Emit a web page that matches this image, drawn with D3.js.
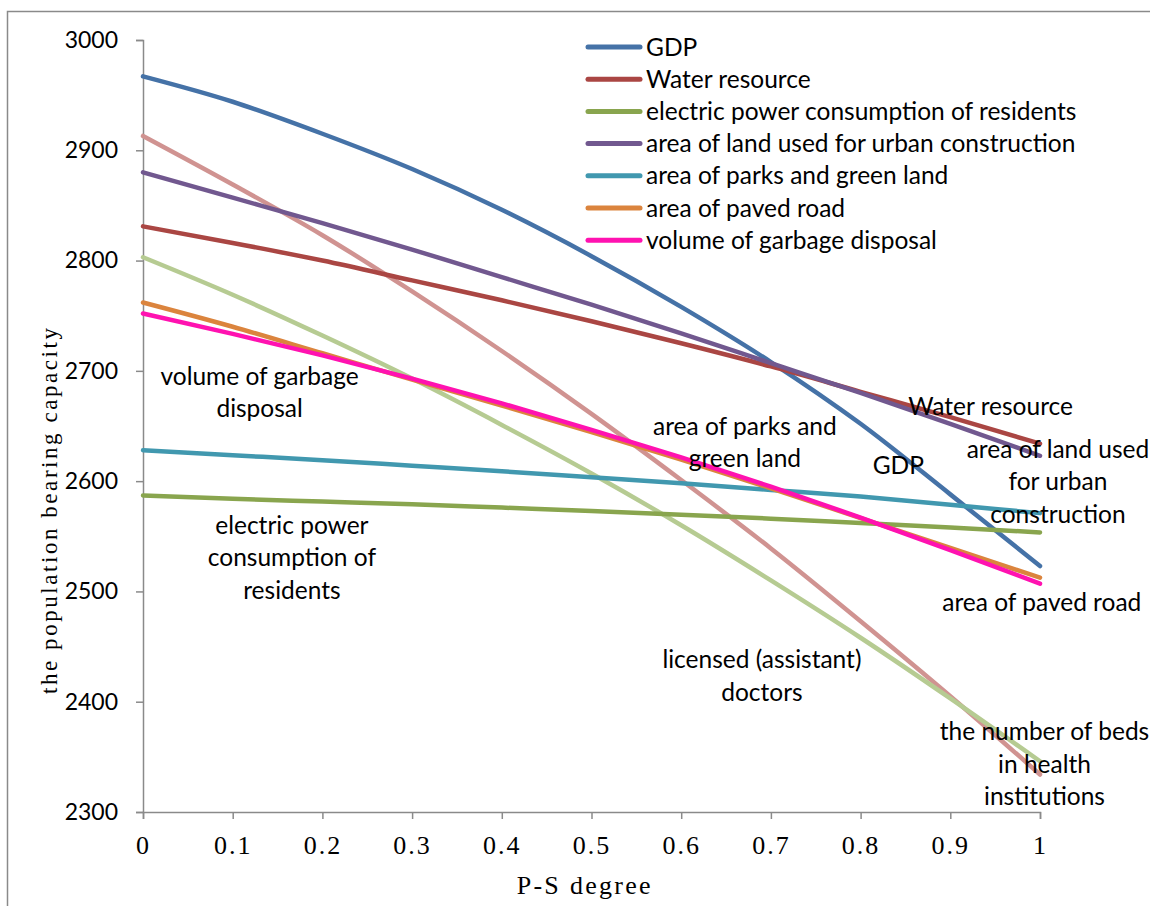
<!DOCTYPE html>
<html>
<head>
<meta charset="utf-8">
<script src="https://cdn.jsdelivr.net/npm/d3@7"></script>
<style>
  body { margin: 0; background: #fff; }
  svg { display: block; }
  .lbl { font-family: Lato, "Open Sans", sans-serif; font-size: 24.5px; fill: #000; }
</style>
</head>
<body>
<svg id="chart" width="1150" height="906"></svg>
<script>
// P-S degree on the x axis
const degrees = [0, 0.1, 0.2, 0.3, 0.4, 0.5, 0.6, 0.7, 0.8, 0.9, 1];
const yTicks = [2300, 2400, 2500, 2600, 2700, 2800, 2900, 3000];

const gdp         = [2967, 2944, 2915, 2883, 2846, 2804, 2758, 2708, 2652, 2588, 2523];
const water       = [2831, 2816, 2800, 2782, 2764, 2745, 2725, 2704, 2681, 2658, 2634];
const electric    = [2587, 2584, 2581.5, 2579, 2576, 2573, 2569.5, 2566, 2562, 2558, 2553.5];
const landUrban   = [2880, 2857, 2834, 2810, 2785, 2760, 2734, 2707, 2680, 2652, 2623];
const parks       = [2628, 2623.5, 2619, 2614, 2609, 2603.5, 2598, 2592, 2586, 2578.5, 2571];
const pavedRoad   = [2762, 2740, 2716, 2692, 2668.5, 2644.5, 2619.5, 2593.5, 2566.5, 2539.5, 2512.5];
const garbage     = [2752, 2733.5, 2714, 2693, 2670.5, 2646.5, 2621.5, 2595, 2567, 2537.5, 2507];
const doctors     = [2913, 2869, 2823, 2772, 2718, 2661, 2601, 2539, 2473, 2405, 2334];
const beds        = [2803, 2769, 2732, 2693, 2651, 2607, 2560, 2510, 2458, 2403, 2346];

// drawn first (not in legend), then the legend series
const series = [
	{name: "licensed (assistant) doctors", values: doctors, color: "#D09391", legend: false},
	{name: "the number of beds in health institutions", values: beds, color: "#B6CB92", legend: false},
	{name: "GDP", values: gdp, color: "#4572A7", legend: true},
	{name: "Water resource", values: water, color: "#AA4643", legend: true},
	{name: "electric power consumption of residents", values: electric, color: "#89A54E", legend: true},
	{name: "area of land used for urban construction", values: landUrban, color: "#71588F", legend: true},
	{name: "area of parks and green land", values: parks, color: "#4198AF", legend: true},
	{name: "area of paved road", values: pavedRoad, color: "#DB843D", legend: true},
	{name: "volume of garbage disposal", values: garbage, color: "#FF12B0", legend: true}
];

// text labels placed in data coordinates
const notes = [
	{lines: ["volume of garbage", "disposal"], t: 0.13, v: 2695},
	{lines: ["area of parks and", "green land"], t: 0.671, v: 2650},
	{lines: ["GDP"], t: 0.842, v: 2614},
	{lines: ["Water resource"], t: 0.945, v: 2668},
	{lines: ["area of land used", "for urban", "construction"], t: 1.02, v: 2629},
	{lines: ["electric power", "consumption of", "residents"], t: 0.166, v: 2560},
	{lines: ["area of paved road"], t: 1.002, v: 2490},
	{lines: ["licensed (assistant)", "doctors"], t: 0.69, v: 2438},
	{lines: ["the number of beds", "in health", "institutions"], t: 1.005, v: 2373}
];

const svg = d3.select("#chart");
const axisColor = "#8a8a8a";

// outer frame (cut off at right and bottom)
svg.append("path")
	.attr("d", "M7.5,906 V11.5 H1150")
	.attr("fill", "none")
	.attr("stroke", axisColor)
	.attr("stroke-width", 1.5);

const X = d3.scaleLinear().domain([0, 1]).range([143, 1040]);
const Y = d3.scaleLinear().domain([2300, 3000]).range([812, 40]);

// y axis
const yAxis = svg.append("g")
	.attr("transform", `translate(${X(0)},0)`)
	.call(d3.axisLeft(Y).tickValues(yTicks).tickSize(7).tickPadding(18).tickFormat(d3.format("d")));
yAxis.select(".domain").attr("stroke", axisColor).attr("stroke-width", 1.5);
yAxis.selectAll(".tick line").attr("stroke", axisColor).attr("stroke-width", 1.5);
yAxis.selectAll("text")
	.attr("font-family", "Lato, 'Open Sans', sans-serif")
	.attr("font-size", 23)
	.attr("fill", "#000");

// x axis
const xAxis = svg.append("g")
	.attr("transform", `translate(0,${Y(2300)})`)
	.call(d3.axisBottom(X).tickValues(degrees).tickSize(7).tickPadding(17)
		.tickFormat(d => d === 0 || d === 1 ? String(d) : d3.format(".1f")(d)));
xAxis.select(".domain").attr("stroke", axisColor).attr("stroke-width", 1.5);
xAxis.selectAll(".tick line").attr("stroke", axisColor).attr("stroke-width", 1.5);
xAxis.selectAll("text")
	.attr("font-family", "'Liberation Serif', serif")
	.attr("font-size", 26)
	.attr("letter-spacing", "2px")
	.attr("fill", "#000");

// axis titles
svg.append("text")
	.attr("transform", `translate(57,${(327 + 695) / 2}) rotate(-90)`)
	.attr("text-anchor", "middle")
	.attr("font-family", "'Liberation Serif', serif")
	.attr("font-size", 23)
	.attr("textLength", 366)
	.attr("lengthAdjust", "spacing")
	.text("the population bearing capacity");

svg.append("text")
	.attr("x", (X(0.4) + X(0.5)) / 2 + 37)
	.attr("y", 894)
	.attr("text-anchor", "middle")
	.attr("font-family", "'Liberation Serif', serif")
	.attr("font-size", 26)
	.attr("textLength", 134)
	.attr("lengthAdjust", "spacing")
	.text("P-S degree");

// lines
const line = d3.line().x((d, i) => X(degrees[i])).y(d => Y(d)).curve(d3.curveMonotoneX);

svg.append("g").selectAll("path")
	.data(series).enter().append("path")
	.attr("d", d => line(d.values))
	.attr("fill", "none")
	.attr("stroke", d => d.color)
	.attr("stroke-width", 4.5)
	.attr("stroke-linejoin", "round")
	.attr("stroke-linecap", "round");

// legend
const legend = svg.append("g").attr("transform", "translate(588,47)");
const items = legend.selectAll("g")
	.data(series.filter(d => d.legend)).enter().append("g")
	.attr("transform", (d, i) => `translate(0,${i * 32.2})`);
items.append("line")
	.attr("x1", 0).attr("x2", 52)
	.attr("stroke", d => d.color)
	.attr("stroke-width", 5)
	.attr("stroke-linecap", "round");
items.append("text")
	.attr("class", "lbl")
	.attr("x", 58)
	.attr("dy", "0.35em")
	.text(d => d.name);

// in-plot labels
const noteG = svg.append("g").selectAll("text")
	.data(notes).enter().append("text")
	.attr("class", "lbl")
	.attr("text-anchor", "middle")
	.attr("x", d => X(d.t))
	.attr("y", d => Y(d.v));
noteG.selectAll("tspan")
	.data(d => d.lines.map(s => ({s, t: d.t})))
	.enter().append("tspan")
	.attr("x", d => X(d.t))
	.attr("dy", (d, i) => i === 0 ? "0.35em" : "32.5")
	.text(d => d.s);
</script>
</body>
</html>
